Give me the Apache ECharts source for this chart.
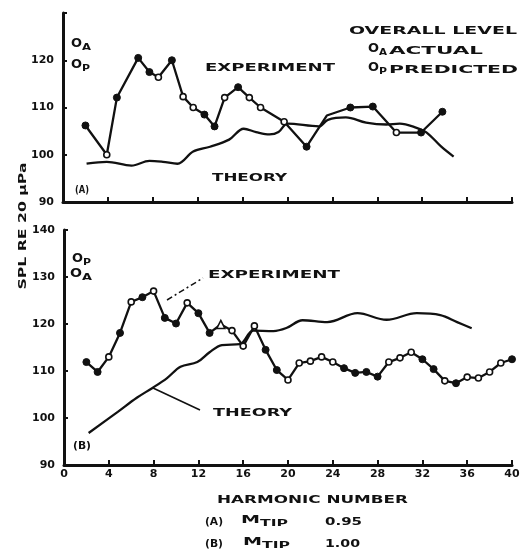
<!DOCTYPE html>
<html><head><meta charset="utf-8">
<script src="https://cdn.jsdelivr.net/npm/echarts@6/dist/echarts.min.js"></script>
<style>html,body{margin:0;padding:0;background:#fff}#c{width:527px;height:551px}</style>
</head><body><div id="c"></div>
<script>
// ---- data ----
const xTicks = [0, 4, 8, 12, 16, 20, 24, 28, 32, 36, 40];
const topYTicks = [90, 100, 110, 120, 130];
const botYTicks = [90, 100, 110, 120, 130, 140];

// (A) M_TIP 0.95
const topExpX = [2.0, 3.9, 4.8, 6.7, 7.7, 8.5, 9.7, 10.7, 11.6, 12.6, 13.5, 14.4, 15.6, 16.6, 17.6, 19.7, 21.7, 23.5, 25.6, 27.6, 29.7, 31.9, 33.8];
const topExpY = [106.2, 100, 112.1, 120.5, 117.5, 116.4, 120, 112.3, 110, 108.5, 106, 112.1, 114.3, 112.1, 110, 107, 101.7, 108.3, 110, 110.2, 104.7, 104.7, 109.1];
const topExpKind = ['f','o','f','f','f','o','f','o','o','f','f','o','f','o','o','o','f','n','f','f','o','f','f'];
const topTheoryX = [2.1, 3.9, 6.1, 7.7, 8.9, 10.2, 11.6, 13.1, 14.8, 16.1, 17.2, 18.4, 19.2, 20.0, 22.8, 23.6, 25.2, 27.0, 28.8, 30.0, 31.5, 32.4, 33.7, 34.8];
const topTheoryY = [98.1, 98.5, 97.7, 98.7, 98.5, 98.1, 100.7, 101.7, 103.2, 105.5, 104.8, 104.3, 104.8, 106.6, 106.0, 107.4, 107.9, 106.8, 106.4, 106.6, 105.7, 104.7, 101.7, 99.6];

// (B) M_TIP 1.00
const botExpX = [2,3,4,5,6,7,8,9,10,11,12,13,14,15,16,17,18,19,20,21,22,23,24,25,26,27,28,29,30,31,32,33,34,35,36,37,38,39,40];
const botExpY = [111.9,109.8,113,118.1,124.7,125.7,127,121.3,120.1,124.5,122.3,118.1,119.9,118.6,115.3,119.6,114.5,110.2,108.1,111.7,112.1,113,111.9,110.6,109.6,109.8,108.8,111.9,112.8,114,112.5,110.4,107.9,107.4,108.7,108.5,109.8,111.7,112.5];
const botExpKind = ['f','f','o','f','o','f','o','f','f','o','f','f','t','o','o','o','f','f','o','o','o','o','o','f','f','f','f','o','o','o','f','f','o','f','o','o','o','o','f'];
const botTheoryX = [2.2, 4.8, 6.5, 7.9, 9.2, 10.4, 11.9, 13.0, 14.1, 15.7, 16.9, 18.7, 19.9, 21.3, 23.5, 26.2, 28.8, 31.5, 33.6, 35.1, 36.4];
const botTheoryY = [96.8, 101.3, 104.3, 106.4, 108.5, 110.9, 111.9, 114.0, 115.5, 115.7, 118.6, 118.5, 119.2, 120.8, 120.4, 122.3, 120.9, 122.3, 121.9, 120.4, 119.1];

// ---- helpers ----
const INK = '#111';
const FF = '"DejaVu Sans", sans-serif';
const mctx = document.createElement('canvas').getContext('2d');
function measure(t, size) { mctx.font = 'bold ' + size + 'px ' + FF; return mctx.measureText(t).width; }
function label(t, x, y, w, size) {
  size = size || 11;
  return { type: 'text', x: x, y: y, scaleX: w / measure(t, size), z: 100,
    style: { text: t, font: 'bold ' + size + 'px ' + FF, fill: INK, textAlign: 'left', textVerticalAlign: 'middle', align: 'left', verticalAlign: 'middle' } };
}
// main letter + subscript drawn as two texts
function subLabel(main, sub, x, y, wMain, wSub, size, subSize) {
  return [label(main, x, y, wMain, size), label(sub, x + wMain, y + 4, wSub, subSize)];
}
function points(xs, ys, kinds) {
  return xs.map((x, i) => {
    const k = kinds[i];
    if (k === 'n') return { value: [x, ys[i]], symbol: 'none' };
    if (k === 'f') return { value: [x, ys[i]], symbol: 'circle', symbolSize: 7, itemStyle: { color: INK, borderColor: INK, borderWidth: 1 } };
    if (k === 't') return { value: [x, ys[i]], symbol: 'triangle', symbolSize: 8, itemStyle: { color: '#fff', borderColor: INK, borderWidth: 1.6 } };
    return { value: [x, ys[i]], symbol: 'circle', symbolSize: 6, itemStyle: { color: '#fff', borderColor: INK, borderWidth: 1.6 } };
  });
}
function pairs(xs, ys) { return xs.map((x, i) => [x, ys[i]]); }

const axisLine = { show: true, lineStyle: { color: INK, width: 3 } };
const tick = { show: true, inside: true, length: 5, lineStyle: { color: INK, width: 2 } };
const lbl = { color: INK, fontWeight: 'bold', fontSize: 11, fontFamily: FF };

function xAxis(gi, show) {
  return { type: 'value', gridIndex: gi, min: xTicks[0], max: xTicks[xTicks.length - 1], interval: xTicks[1] - xTicks[0],
    axisLine: axisLine, axisTick: tick, splitLine: { show: false },
    axisLabel: Object.assign({ show: show, margin: 4 }, lbl) };
}
function yAxis(gi, ticks, hideTop) {
  const top = ticks[ticks.length - 1];
  return { type: 'value', gridIndex: gi, min: ticks[0], max: top, interval: ticks[1] - ticks[0],
    axisLine: axisLine, axisTick: Object.assign({}, tick, { length: 4 }), splitLine: { show: false },
    axisLabel: Object.assign({ margin: 9, formatter: v => (hideTop && v === top) ? '' : String(v) }, lbl) };
}

const graphics = [
  // y-axis title
  { type: 'text', x: 23, y: 226, rotation: Math.PI / 2, scaleX: 127 / measure('SPL RE 20 μPa', 11), z: 100,
    style: { text: 'SPL RE 20 μPa', font: 'bold 11px ' + FF, fill: INK, textAlign: 'center', textVerticalAlign: 'middle', align: 'center', verticalAlign: 'middle' } },
  // top panel
  ...subLabel('O', 'A', 71, 44, 11, 9, 12, 9),
  ...subLabel('O', 'P', 71, 65, 11, 8, 12, 9),
  label('EXPERIMENT', 205, 68, 130),
  label('THEORY', 212, 178, 75),
  label('(A)', 75, 190, 14, 10),
  label('OVERALL LEVEL', 349, 31, 168),
  ...subLabel('O', 'A', 368, 49, 11, 8, 12, 8),
  label('ACTUAL', 389, 51, 94),
  ...subLabel('O', 'P', 368, 68, 11, 8, 12, 8),
  label('PREDICTED', 389, 70, 129),
  // bottom panel
  ...subLabel('O', 'P', 72, 259, 11, 8, 12, 9),
  ...subLabel('O', 'A', 70, 274, 12, 10, 12, 9),
  label('EXPERIMENT', 208, 275, 132),
  { type: 'polyline', z: 100, shape: { points: [[167, 300], [203, 278]] }, style: { stroke: INK, lineWidth: 1.5, lineDash: [6, 3, 2, 3], fill: null } },
  label('THEORY', 213, 413, 79),
  { type: 'polyline', z: 100, shape: { points: [[153, 388], [200, 410]] }, style: { stroke: INK, lineWidth: 1.6, fill: null } },
  label('(B)', 73, 446, 18, 10),
  // x-axis title and captions
  label('HARMONIC NUMBER', 217, 500, 191),
  label('(A)', 205, 522, 18),
  ...subLabel('M', 'TIP', 241, 520, 19, 28, 11, 8),
  label('0.95', 325, 522, 37),
  label('(B)', 205, 544, 18),
  ...subLabel('M', 'TIP', 243, 542, 19, 28, 11, 8),
  label('1.00', 325, 544, 35)
];

const chart = echarts.init(document.getElementById('c'), null, { renderer: 'canvas' });
chart.setOption({
  animation: false,
  backgroundColor: '#fff',
  grid: [
    { left: 63, top: 13, width: 449, height: 189 },
    { left: 64, top: 230, width: 448, height: 235 }
  ],
  xAxis: [xAxis(0, false), xAxis(1, true)],
  yAxis: [yAxis(0, topYTicks, true), yAxis(1, botYTicks, false)],
  series: [
    { name: 'Experiment A', type: 'line', xAxisIndex: 0, yAxisIndex: 0, data: points(topExpX, topExpY, topExpKind),
      lineStyle: { color: INK, width: 2.3 }, z: 3 },
    { name: 'Theory A', type: 'line', xAxisIndex: 0, yAxisIndex: 0, data: pairs(topTheoryX, topTheoryY), smooth: 0.35,
      symbol: 'none', lineStyle: { color: INK, width: 2.3 }, z: 2 },
    { name: 'Experiment B', type: 'line', xAxisIndex: 1, yAxisIndex: 1, data: points(botExpX, botExpY, botExpKind),
      lineStyle: { color: INK, width: 2.3 }, z: 3 },
    { name: 'Theory B', type: 'line', xAxisIndex: 1, yAxisIndex: 1, data: pairs(botTheoryX, botTheoryY), smooth: 0.35,
      symbol: 'none', lineStyle: { color: INK, width: 2.3 }, z: 2 }
  ],
  graphic: graphics
});
</script>
</body></html>
